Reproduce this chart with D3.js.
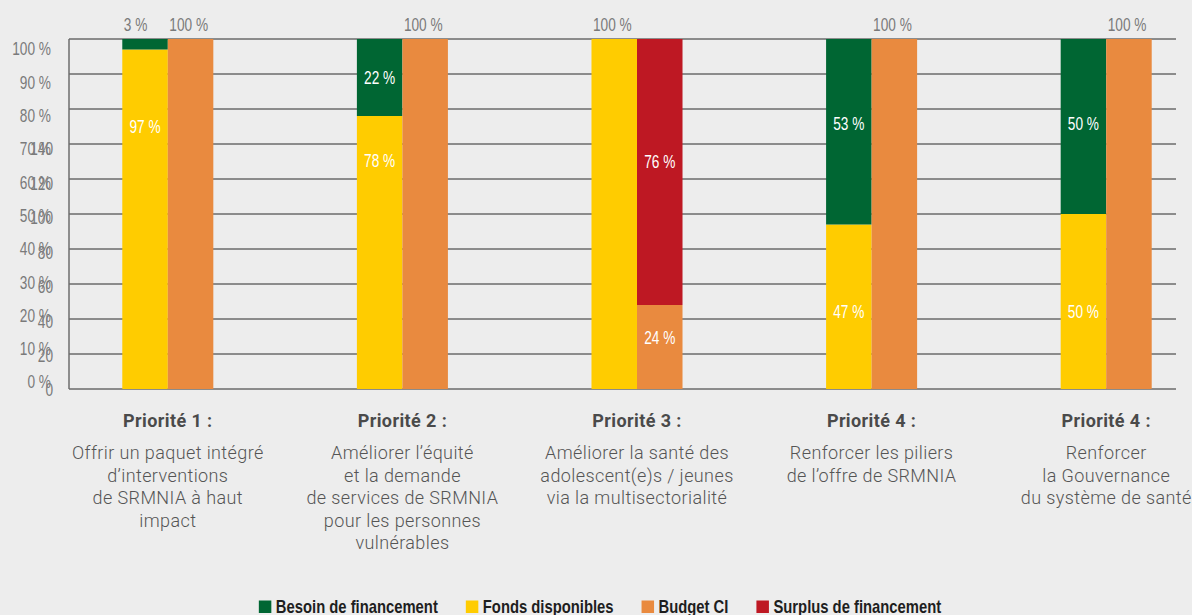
<!DOCTYPE html>
<html><head><meta charset="utf-8">
<script src="https://cdn.jsdelivr.net/npm/d3@7"></script>
<style>
html,body{margin:0;padding:0;background:#ededed;}
svg{display:block;}
</style></head>
<body>
<svg id="chart" width="1192" height="615"></svg>
<script>
// ---------- DATA ----------
const priorities = ["Priorité 1 :", "Priorité 2 :", "Priorité 3 :", "Priorité 4 :", "Priorité 4 :"];
const descriptions = [
  ["Offrir un paquet intégré", "d’interventions", "de SRMNIA à haut", "impact"],
  ["Améliorer l’équité", "et la demande", "de services de SRMNIA", "pour les personnes", "vulnérables"],
  ["Améliorer la santé des", "adolescent(e)s / jeunes", "via la multisectorialité"],
  ["Renforcer les piliers", "de l’offre de SRMNIA"],
  ["Renforcer", "la Gouvernance", "du système de santé"]
];
const fondsDisponibles   = [97, 78, 100, 47, 50];
const besoinFinancement  = [3, 22, 0, 53, 50];
const budgetCI           = [100, 100, 24, 100, 100];
const surplusFinancement = [0, 0, 76, 0, 0];
// where the inside value labels sit (in % units); null = label above the bar
const labelAtFonds   = [74.9, 65.4, null, 22.1, 22.1];
const labelAtBesoin  = [null, 89.1, null, 75.7, 75.7];
const labelAtBudget  = [null, null, 14.6, null, null];
const labelAtSurplus = [null, null, 64.9, null, null];
const yTicks = [0, 10, 20, 30, 40, 50, 60, 70, 80, 90, 100];
const ySecondaryTicks = [0, 20, 40, 60, 80, 100, 120, 140];
const legendItems = ["Besoin de financement", "Fonds disponibles", "Budget CI", "Surplus de financement"];

// ---------- STYLE ----------
const colors = {
  "Besoin de financement": "#006633",
  "Fonds disponibles": "#ffcc00",
  "Budget CI": "#e98a3f",
  "Surplus de financement": "#be1823"
};
const numFont = "'Liberation Sans',Arial,sans-serif";
const txtFont = "Roboto,'Open Sans',sans-serif";
const SX = 0.76;   // horizontal condensation for numeric labels
const SXL = 0.8;   // condensation for legend

const svg = d3.select("#chart");
const plotLeft = 69, plotRight = 1176, plotTop = 39, plotBottom = 389;

const y = d3.scaleLinear().domain([0, 100]).range([plotBottom, plotTop]);
const yLabel = d3.scaleLinear().domain([0, 100]).range([382, 49]);
const yLabel2 = d3.scaleLinear().domain([0, 140]).range([390, 149]);

const x0 = d3.scaleBand().domain(d3.range(priorities.length))
  .range([50.5, 1223.5]).paddingInner(0.612).paddingOuter(0.306);
const x1 = d3.scaleBand().domain([0, 1]).range([0, x0.bandwidth()]);

const NUM = 18, HALFCAP = 6.4;
function condText(sel, xf, yf, anchor, fill) {
  return sel.attr("transform", (d, i) => `translate(${xf(d, i)},${yf(d, i)}) scale(${SX},1)`)
    .attr("text-anchor", anchor)
    .style("font-family", numFont).style("font-size", NUM + "px")
    .style("fill", fill);
}

// gridlines
svg.append("g").selectAll("line").data(yTicks).join("line")
  .attr("x1", plotLeft).attr("x2", plotRight)
  .attr("y1", d => y(d)).attr("y2", d => y(d))
  .attr("stroke", "#2b2b2b").attr("stroke-width", 1);

// axis line
svg.append("line").attr("x1", plotLeft).attr("x2", plotLeft)
  .attr("y1", plotTop).attr("y2", plotBottom)
  .attr("stroke", "#6d6d6d").attr("stroke-width", 1.5);

// axis labels (primary %)
condText(svg.append("g").selectAll("text").data(yTicks).join("text"),
  () => 51, d => yLabel(d) + HALFCAP, "end", "#7a7a7a").text(d => d + " %");
// secondary overlapping labels
condText(svg.append("g").selectAll("text").data(ySecondaryTicks).join("text"),
  () => 53, d => yLabel2(d) + HALFCAP, "end", "#7a7a7a").text(d => d);

// build segments
const segments = [];
priorities.forEach((p, i) => {
  const gx = x0(i);
  const bars = [
    [{series: "Fonds disponibles", v: fondsDisponibles[i], lab: labelAtFonds[i]},
     {series: "Besoin de financement", v: besoinFinancement[i], lab: labelAtBesoin[i]}],
    [{series: "Budget CI", v: budgetCI[i], lab: labelAtBudget[i]},
     {series: "Surplus de financement", v: surplusFinancement[i], lab: labelAtSurplus[i]}]
  ];
  bars.forEach((bar, bi) => {
    let acc = 0;
    bar.forEach(s => {
      if (s.v > 0) {
        segments.push({i, bi, series: s.series, y0: acc, y1: acc + s.v, v: s.v, lab: s.lab,
          x: gx + x1(bi), w: x1.bandwidth()});
      }
      acc += s.v;
    });
  });
});

svg.append("g").selectAll("rect").data(segments).join("rect")
  .attr("x", d => d.x).attr("width", d => d.w)
  .attr("y", d => y(d.y1)).attr("height", d => y(d.y0) - y(d.y1))
  .attr("fill", d => colors[d.series]);

// labels inside
condText(svg.append("g").selectAll("text").data(segments.filter(d => d.lab != null)).join("text"),
  d => d.x + d.w / 2, d => y(d.lab) + HALFCAP, "middle", "#ffffff").text(d => d.v + " %");
// labels above
condText(svg.append("g").selectAll("text").data(segments.filter(d => d.lab == null)).join("text"),
  d => d.x + 1.5, () => 25 + HALFCAP, "start", "#7a7a7a").text(d => d.v + " %");

// category labels
const cat = svg.append("g").selectAll("g").data(priorities).join("g")
  .attr("transform", (d, i) => `translate(${x0(i) + x0.bandwidth() / 2},0)`);
cat.append("text").attr("y", 427).attr("text-anchor", "middle")
  .style("font-family", txtFont).style("font-weight", "700").style("font-size", "18px")
  .style("letter-spacing", "0.4px")
  .style("fill", "#4a4a4a").text(d => d);
cat.each(function(d, i) {
  d3.select(this).selectAll("text.desc").data(descriptions[i]).join("text")
    .attr("class", "desc").attr("y", (t, k) => 459 + k * 22.5).attr("text-anchor", "middle")
    .style("font-family", txtFont).style("font-weight", "300").style("font-size", "18px")
    .style("letter-spacing", "0.4px")
    .style("fill", "#555555").text(t => t);
});

// legend
const leg = svg.append("g");
let lx = 0;
legendItems.forEach(name => {
  const g = leg.append("g");
  g.append("rect").attr("x", 0).attr("y", -12.5).attr("width", 12.5).attr("height", 12.5)
    .attr("fill", colors[name]);
  const t = g.append("text").attr("transform", `translate(17,0) scale(${SXL},1)`)
    .style("font-family", numFont).style("font-weight", "700").style("font-size", "18.5px")
    .style("fill", "#1e1e1e").text(name);
  const w = 17 + t.node().getComputedTextLength() * SXL;
  g.attr("transform", `translate(${lx},613)`);
  lx += w + 28;
});
const totalW = lx - 28;
leg.attr("transform", `translate(${600 - totalW / 2},0)`);
</script>
</body></html>
